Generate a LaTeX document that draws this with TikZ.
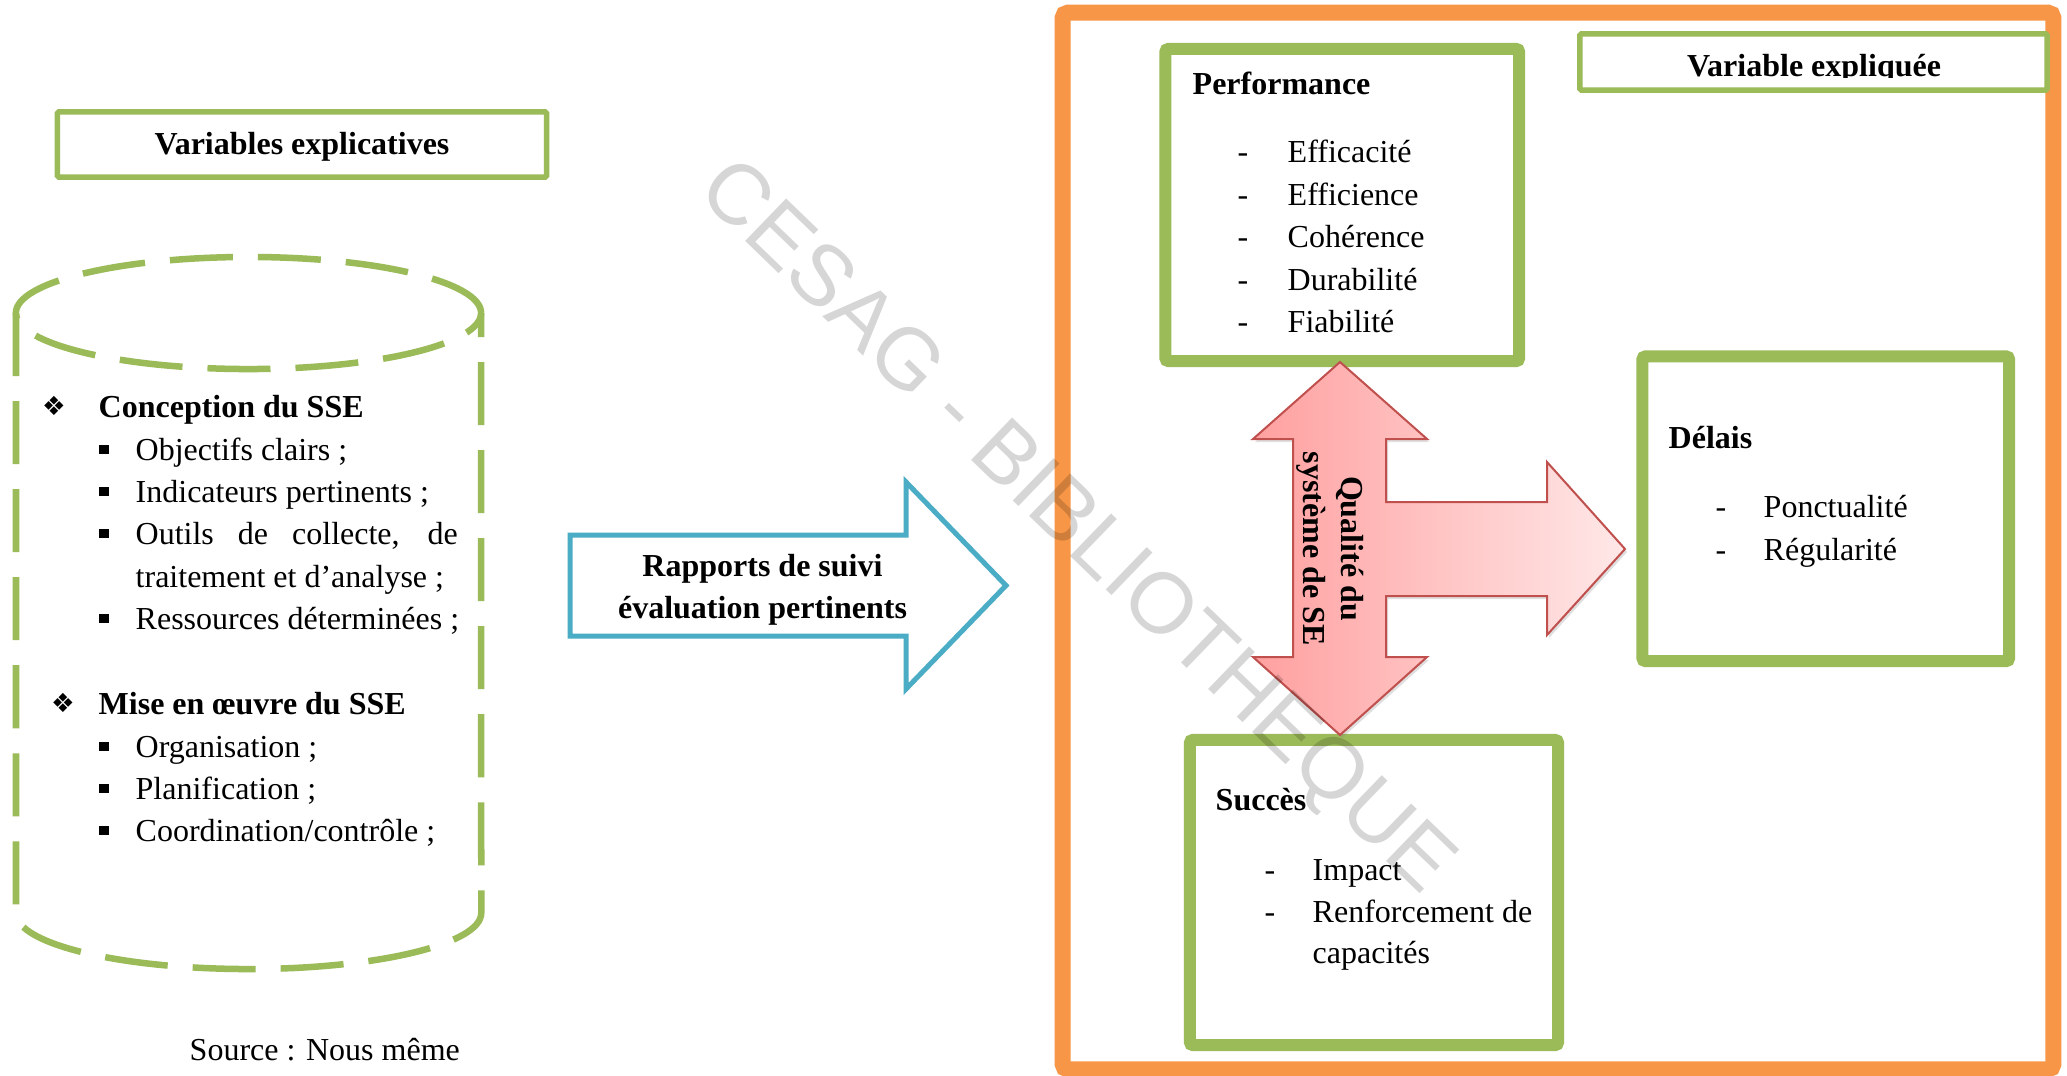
\documentclass[tikz,border=0pt]{standalone}
\usepackage{fontspec}
\setmainfont{Liberation Serif}
\newfontfamily\wmfont{Liberation Sans}
\newfontfamily\symfont{DejaVu Sans}
\usetikzlibrary{shadows}

\definecolor{olivegreen}{HTML}{9BBB59}
\definecolor{frameorange}{HTML}{F79646}
\definecolor{arrowblue}{HTML}{4BACC6}
\definecolor{arrowred}{HTML}{C0504D}
\definecolor{pinkdark}{RGB}{255,160,160}
\definecolor{pinklight}{RGB}{255,232,232}

\newcommand\bodysize{\fontsize{9.1pt}{12pt}\selectfont}

\begin{document}
\begin{tikzpicture}[x=0.01cm, y=-0.01cm,
  txtplain/.style={font=\bodysize, inner sep=0pt, anchor=base west},
  txtbold/.style={font=\bodysize\bfseries, inner sep=0pt, anchor=base west},
  hyphmark/.style={font=\bodysize, inner sep=0pt, anchor=base},
  greenbox/.style={draw=olivegreen, line width=0.12cm, rounded corners=0.03cm, inner sep=0pt},
  titlebox/.style={draw=olivegreen, line width=0.055cm, rounded corners=0.015cm, inner sep=0pt},
  cylline/.style={draw=olivegreen, line width=0.065cm, dash pattern=on 0.63cm off 0.25cm},
  sqbullet/.style={fill=black, minimum size=0.09cm, inner sep=0pt},
  diabullet/.style={font=\symfont\fontsize{7.5pt}{7.5pt}\selectfont, inner sep=0pt},
]
\useasboundingbox (0,0) rectangle (2067,1075);
\fill[white] (0,0) rectangle (2067,1075);

% ---------- explanatory variables ----------
\node[titlebox, minimum width=4.89cm, minimum height=0.65cm] (vexp) at (302,144.5) {};
\node[txtbold, anchor=base] (vexpt) at (302,154) {Variables explicatives};

% dashed cylinder
\draw[cylline] (248.5,313) ellipse [x radius=2.325cm, y radius=0.56cm];
\draw[cylline] (16,313) -- (16,913) arc[start angle=180, end angle=360, x radius=2.325cm, y radius=0.56cm] -- (481,313);

\node[diabullet] (d1) at (54,406) {❖};
\node[txtbold] (c0) at (98,417) {Conception du SSE};
\node[sqbullet] (b1) at (104,449) {};
\node[txtplain] (c1) at (135,460) {Objectifs clairs ;};
\node[sqbullet] (b2) at (104,491) {};
\node[txtplain] (c2) at (135,502) {Indicateurs pertinents ;};
\node[sqbullet] (b3) at (104,533) {};
\node[txtplain] (c3) at (135,544) {\makebox[3.22cm][s]{Outils de collecte, de}};
\node[txtplain] (c3b) at (135,587) {traitement et d’analyse ;};
\node[sqbullet] (b4) at (104,618) {};
\node[txtplain] (c4) at (135,629) {Ressources déterminées ;};

\node[diabullet] (d2) at (63,703) {❖};
\node[txtbold] (m0) at (98,714) {Mise en œuvre du SSE};
\node[sqbullet] (b5) at (104,746) {};
\node[txtplain] (m1) at (135,757) {Organisation ;};
\node[sqbullet] (b6) at (104,788) {};
\node[txtplain] (m2) at (135,799) {Planification ;};
\node[sqbullet] (b7) at (104,830) {};
\node[txtplain] (m3) at (135,841) {Coordination/contrôle ;};

\node[txtplain] (src) at (189,1060) {Source : Nous même};

% ---------- blue arrow ----------
\draw[draw=arrowblue, line width=0.05cm, fill=white]
  (570,535) -- (906,535) -- (906,482) -- (1006,585.5) -- (906,689) -- (906,636) -- (570,636) -- cycle;
\node[txtbold, anchor=base] (rap1) at (762.5,576.5) {Rapports de suivi};
\node[txtbold, anchor=base] (rap2) at (762.5,618) {évaluation pertinents};

% ---------- explained variable ----------
\node[draw=frameorange, line width=0.16cm, rounded corners=0.05cm, minimum width=9.9cm, minimum height=10.56cm, inner sep=0pt] (frame) at (1558,541) {};

\node[titlebox, minimum width=4.67cm, minimum height=0.56cm] (vexd) at (1813.5,62) {};
\begin{scope}
  \clip (1583,37) rectangle (2044,77.5);
  \node[txtbold, anchor=base] (vexdt) at (1814,76) {Variable expliquée};
\end{scope}

% Performance
\node[greenbox, minimum width=3.535cm, minimum height=3.12cm] (perf) at (1342.25,205) {};
\node[txtbold] (perft) at (1192,94) {Performance};
\foreach \t [count=\i from 0] in {Efficacité, Efficience, Cohérence, Durabilité, Fiabilité}{
  \node[hyphmark] (ph\i) at (1243,162.5+42.5*\i) {-};
  \node[txtplain] (pi\i) at (1287,162.5+42.5*\i) {\t};
}

% Délais
\node[greenbox, minimum width=3.665cm, minimum height=3.045cm] (del) at (1825.75,508.75) {};
\node[txtbold] (delt) at (1668,448) {Délais};
\node[hyphmark] (dh1) at (1721,517) {-};
\node[txtplain] (di1) at (1763,517) {Ponctualité};
\node[hyphmark] (dh2) at (1721,560) {-};
\node[txtplain] (di2) at (1763,560) {Régularité};

% Succès
\node[greenbox, minimum width=3.68cm, minimum height=3.05cm] (suc) at (1374,892.5) {};
\node[txtbold] (suct) at (1215,810) {Succès};
\node[hyphmark] (sh1) at (1270,880) {-};
\node[txtplain] (si1) at (1312,880) {Impact};
\node[hyphmark] (sh2) at (1270,922) {-};
\node[txtplain] (si2) at (1312,922) {Renforcement de};
\node[txtplain] (si3) at (1312,963) {capacités};

% three-headed quality arrow
\path[draw=arrowred, line width=0.02cm, left color=pinkdark, right color=pinklight,
      drop shadow={shadow xshift=0.02cm, shadow yshift=-0.03cm, opacity=0.25}]
  (1340,362) -- (1427,439) -- (1386,439) -- (1386,502) -- (1547,502) -- (1547,462)
  -- (1625,549) -- (1547,635) -- (1547,596) -- (1386,596) -- (1386,657) -- (1427,657)
  -- (1340,735) -- (1253,657) -- (1293,657) -- (1293,439) -- (1253,439) -- cycle;
\node[txtbold, anchor=base, rotate=-90] (q1) at (1341,548.5) {Qualité du};
\node[txtbold, anchor=base, rotate=-90] (q2) at (1303,548.5) {système de SE};

% watermark
\node[font=\wmfont\fontsize{24.4pt}{29pt}\selectfont, text=black, text opacity=0.16,
      rotate=-44, anchor=base, inner sep=0pt] (wm) at (1059,545) {CESAG - BIBLIOTHEQUE};
\end{tikzpicture}
\end{document}
